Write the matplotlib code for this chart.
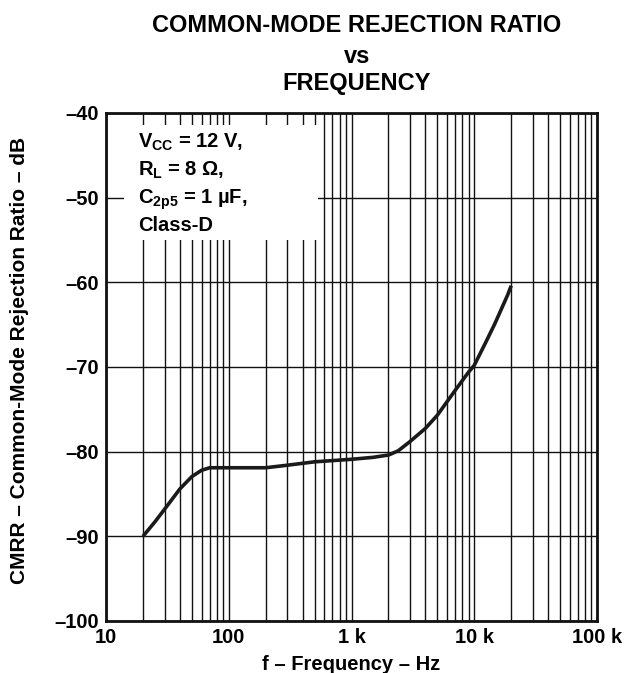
import matplotlib
matplotlib.use("Agg")
import matplotlib.pyplot as plt
from matplotlib.ticker import FixedLocator, NullFormatter
from matplotlib.patches import Rectangle

plt.rcParams['font.family'] = ['Liberation Sans', 'DejaVu Sans']
plt.rcParams['font.weight'] = 'bold'
plt.rcParams['mathtext.fontset'] = 'custom'
plt.rcParams['mathtext.rm'] = 'Liberation Sans:bold'
plt.rcParams['mathtext.it'] = 'Liberation Sans:bold'
plt.rcParams['mathtext.bf'] = 'Liberation Sans:bold'

# Data
freq_hz = [20, 25, 30, 40, 50, 60, 70, 100, 200, 300, 500, 1000, 1500, 2000,
           2400, 3000, 4000, 5000, 6000, 7000, 8000, 9000, 10000, 12300,
           14700, 18700, 20000]
cmrr_db = [-90.0, -88.3, -86.8, -84.4, -82.95, -82.2, -81.9, -81.9, -81.9,
           -81.6, -81.2, -80.9, -80.67, -80.4, -79.9, -78.8, -77.25, -75.7,
           -74.1, -72.75, -71.6, -70.6, -69.8, -67.2, -64.9, -61.5, -60.4]

x_ticks = [10, 100, 1000, 10000, 100000]
x_tick_labels = ['10', '100', '1 k', '10 k', '100 k']
y_ticks = [-100, -90, -80, -70, -60, -50, -40]
y_tick_labels = ['–100', '–90', '–80', '–70', '–60', '–50', '–40']

title_lines = ['COMMON-MODE REJECTION RATIO', 'vs', 'FREQUENCY']
x_label = 'f – Frequency – Hz'
y_label = 'CMRR – Common-Mode Rejection Ratio – dB'
annotation_lines = [r'V$_{\mathrm{CC}}$ = 12 V,', r'R$_{\mathrm{L}}$ = 8 Ω,',
                    r'C$_{\mathrm{2p5}}$ = 1 µF,', 'Class-D']

fig = plt.figure(figsize=(6.4, 6.73), dpi=100)
ax = fig.add_axes([106/640, 1-621/673, 491/640, 508/673])

ax.set_xscale('log')
ax.set_xlim(10, 100000)
ax.set_ylim(-100, -40)

minor = [m * 10**e for e in range(1, 5) for m in range(2, 10)]
ax.xaxis.set_major_locator(FixedLocator(x_ticks))
ax.xaxis.set_minor_locator(FixedLocator(minor))
ax.xaxis.set_minor_formatter(NullFormatter())
ax.set_xticks(x_ticks)
ax.set_xticklabels(x_tick_labels)
ax.set_yticks(y_ticks)
ax.set_yticklabels(y_tick_labels)

ax.grid(True, which='both', axis='x', color='#111111', lw=1.0)
ax.grid(True, which='major', axis='y', color='#111111', lw=1.0)
ax.tick_params(which='both', length=0, labelsize=14.5, pad=5)
for lab in ax.get_xticklabels() + ax.get_yticklabels():
    lab.set_fontweight('bold')
for s in ax.spines.values():
    s.set_linewidth(2.0)
    s.set_color('#111111')
    s.set_zorder(5)

ax.plot(freq_hz, cmrr_db, color='#1a1a1a', lw=2.6, solid_capstyle='butt',
        solid_joinstyle='round', zorder=4)

# white annotation box
ax.add_patch(Rectangle((0.037, 0.75), 0.395, 0.227, transform=ax.transAxes,
                       facecolor='white', edgecolor='none', zorder=3))
ys = [0.931, 0.876, 0.821, 0.768]
for t, yy in zip(annotation_lines, ys):
    ax.text(0.065, yy, t, transform=ax.transAxes, fontsize=14.5,
            fontweight='bold', va='baseline', ha='left', zorder=6)

# titles
tys = [32, 63, 90]
for t, yy in zip(title_lines, tys):
    fig.text(357/640, 1-yy/673, t, ha='center', va='baseline',
             fontsize=17, fontweight='bold')

fig.text(351.5/640, 1-664/673, x_label, ha='center', va='center',
         fontsize=14.5, fontweight='bold')
fig.text(20/640, 1-360/673, y_label, ha='center', va='center', rotation=90,
         fontsize=15, fontweight='bold')

fig.savefig('out.png', dpi=100)
